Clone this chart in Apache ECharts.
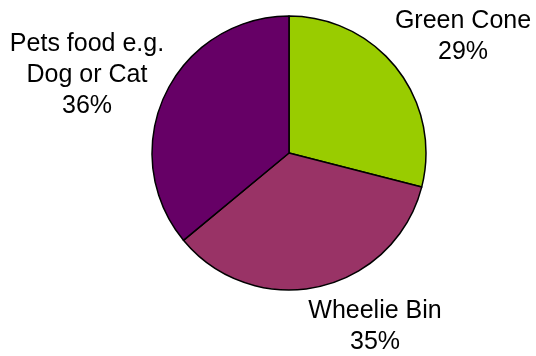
<!DOCTYPE html>
<html>
<head>
<meta charset="utf-8">
<script src="https://cdn.jsdelivr.net/npm/echarts@6/dist/echarts.min.js"></script>
<style>
  html, body { margin: 0; padding: 0; background: #ffffff; }
  #chart { width: 536px; height: 356px; }
</style>
</head>
<body>
<div id="chart"></div>
<script>
// Share of food waste by disposal route
const categories = ['Green Cone', 'Wheelie Bin', 'Pets food e.g.\nDog or Cat'];
const shares = [29, 35, 36];
const colors = ['#99cc00', '#993366', '#660066'];

// Label anchor points (centre of each label block)
const labelSpots = [
  { x: 463, y: 37 },
  { x: 375, y: 327 },
  { x: 87, y: 75 }
];

const chart = echarts.init(document.getElementById('chart'), null, { renderer: 'canvas' });

chart.setOption({
  animation: false,
  backgroundColor: '#ffffff',
  series: [{
    type: 'pie',
    center: [289, 153],
    radius: 137,
    startAngle: 90,
    clockwise: true,
    silent: true,
    data: categories.map((name, i) => ({
      name: name,
      value: shares[i],
      itemStyle: { color: colors[i] }
    })),
    itemStyle: { borderColor: '#000000', borderWidth: 1.5 },
    label: {
      show: true,
      position: 'outside',
      formatter: '{b}\n{d}%',
      fontFamily: 'Liberation Sans, Arial, sans-serif',
      fontSize: 25,
      lineHeight: 31,
      color: '#000000',
      align: 'center',
      overflow: 'none'
    },
    labelLine: { show: false },
    labelLayout: function (params) {
      const p = labelSpots[params.dataIndex];
      return { x: p.x, y: p.y, align: 'center', verticalAlign: 'middle' };
    }
  }]
});
</script>
</body>
</html>
